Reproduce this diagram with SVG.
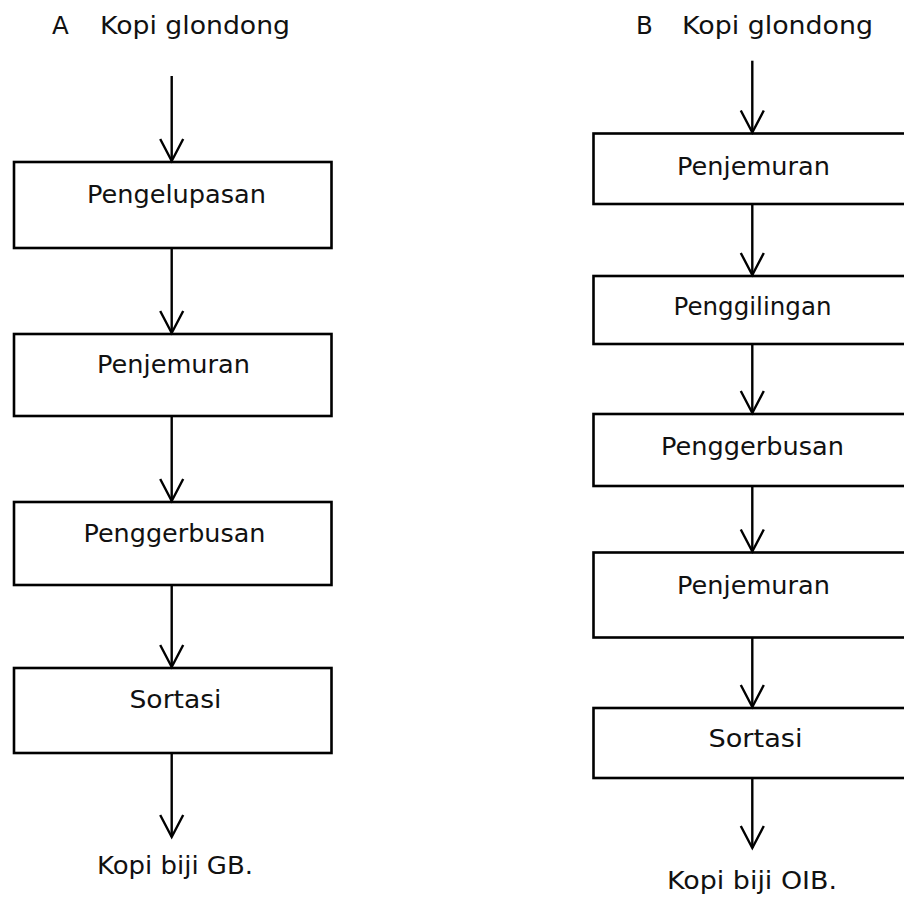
<svg xmlns="http://www.w3.org/2000/svg" width="904" height="897" viewBox="0 0 904 897">
<defs>
<style>
.box{fill:#fff;stroke:#000;stroke-width:2.6}
.ln{fill:none;stroke:#000;stroke-width:2.4}
text{font-family:"DejaVu Sans","Verdana",sans-serif;font-size:24.5px;fill:#111}
</style>
<marker id="v" markerUnits="userSpaceOnUse" markerWidth="28" markerHeight="28" viewBox="-25 -14 28 28" refX="0" refY="0" orient="auto">
<path d="M-22,-11.5 L0,0 L-22,11.5" fill="none" stroke="#000" stroke-width="2.4"/>
</marker>
</defs>
<rect width="904" height="897" fill="#fff"/>
<g id="titleA"><text x="52" y="34">A</text><text x="100" y="34" textLength="190" lengthAdjust="spacingAndGlyphs">Kopi glondong</text></g>
<g id="titleB"><text x="636" y="34">B</text><text x="682" y="34" textLength="191" lengthAdjust="spacingAndGlyphs">Kopi glondong</text></g>
<g id="A1"><rect class="box" x="14" y="162" width="317.5" height="86"/><text x="87" y="203" textLength="179" lengthAdjust="spacingAndGlyphs">Pengelupasan</text></g>
<g id="A2"><rect class="box" x="14" y="334" width="317.5" height="82"/><text x="97" y="373" textLength="153" lengthAdjust="spacingAndGlyphs">Penjemuran</text></g>
<g id="A3"><rect class="box" x="14" y="502" width="317.5" height="83"/><text x="83.5" y="541.5" textLength="182" lengthAdjust="spacingAndGlyphs">Penggerbusan</text></g>
<g id="A4"><rect class="box" x="14" y="668" width="317.5" height="85"/><text x="129.5" y="708" textLength="92" lengthAdjust="spacingAndGlyphs">Sortasi</text></g>
<g id="Aout"><text x="97" y="874" textLength="156" lengthAdjust="spacingAndGlyphs">Kopi biji GB.</text></g>
<g id="B1"><rect class="box" x="593.5" y="133.5" width="330" height="70.5"/><text x="677" y="175" textLength="153" lengthAdjust="spacingAndGlyphs">Penjemuran</text></g>
<g id="B2"><rect class="box" x="593.5" y="276" width="330" height="68"/><text x="673.5" y="315" textLength="158" lengthAdjust="spacingAndGlyphs">Penggilingan</text></g>
<g id="B3"><rect class="box" x="593.5" y="414" width="330" height="72"/><text x="661" y="455" textLength="183" lengthAdjust="spacingAndGlyphs">Penggerbusan</text></g>
<g id="B4"><rect class="box" x="593.5" y="552.5" width="330" height="85"/><text x="677" y="593.5" textLength="153" lengthAdjust="spacingAndGlyphs">Penjemuran</text></g>
<g id="B5"><rect class="box" x="593.5" y="708" width="330" height="70"/><text x="708.5" y="747" textLength="94" lengthAdjust="spacingAndGlyphs">Sortasi</text></g>
<g id="Bout"><text x="667" y="888.5" textLength="170" lengthAdjust="spacingAndGlyphs">Kopi biji OIB.</text></g>
<g id="connectors">
<line class="ln" x1="171.7" y1="76" x2="171.7" y2="161" marker-end="url(#v)"/>
<line class="ln" x1="171.7" y1="248" x2="171.7" y2="333" marker-end="url(#v)"/>
<line class="ln" x1="171.7" y1="416" x2="171.7" y2="501" marker-end="url(#v)"/>
<line class="ln" x1="171.7" y1="585" x2="171.7" y2="667" marker-end="url(#v)"/>
<line class="ln" x1="171.7" y1="753" x2="171.7" y2="837" marker-end="url(#v)"/>
<line class="ln" x1="752.3" y1="60.7" x2="752.3" y2="132.5" marker-end="url(#v)"/>
<line class="ln" x1="752.3" y1="204" x2="752.3" y2="275" marker-end="url(#v)"/>
<line class="ln" x1="752.3" y1="344" x2="752.3" y2="413" marker-end="url(#v)"/>
<line class="ln" x1="752.3" y1="486" x2="752.3" y2="551.5" marker-end="url(#v)"/>
<line class="ln" x1="752.3" y1="637.5" x2="752.3" y2="707" marker-end="url(#v)"/>
<line class="ln" x1="752.3" y1="778" x2="752.3" y2="848" marker-end="url(#v)"/>
</g>
</svg>
